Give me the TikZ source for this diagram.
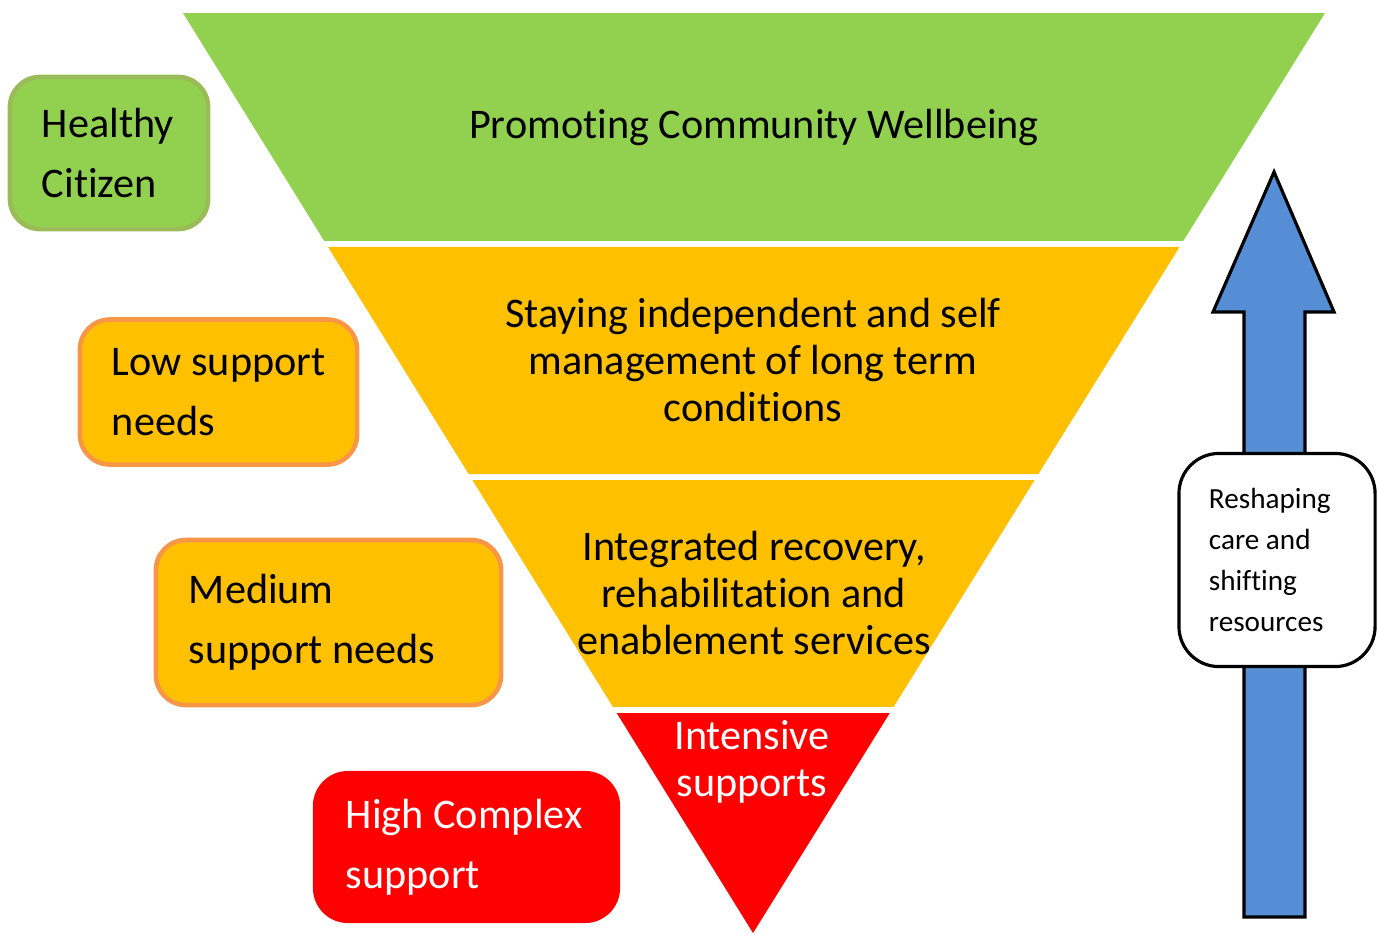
\documentclass[tikz,border=0pt]{standalone}
\usepackage{fontspec}
\setmainfont{Carlito}[RawFeature={-liga;-calt;-dlig}]
\usepackage{tikz}
\usepackage{xcolor}
\usetikzlibrary{calc}

\definecolor{wellgreen}{HTML}{92D050}
\definecolor{wellgreenedge}{HTML}{9BBB59}
\definecolor{amber}{HTML}{FFC000}
\definecolor{amberedge}{HTML}{F79646}
\definecolor{needred}{HTML}{FF0000}
\definecolor{shiftblue}{HTML}{558ED5}

% one unbroken line with the font's own word space
\newcommand{\needline}[1]{\mbox{\spaceskip=0pt\xspaceskip=0pt #1}}

\tikzset{
  needbox/.style={rounded corners=0.3cm, line width=1.3pt, inner xsep=0.32cm,
    align=left, font=\fontsize{12}{17}\selectfont},
  bandtext/.style={align=center, font=\fontsize{12}{13.3}\selectfont},
}

\begin{document}
\begin{tikzpicture}[x=0.01cm, y=-0.01cm]
    \useasboundingbox (0,0) rectangle (1377,933);

    % inverted triangle, cut into four bands
    \coordinate (tl) at (183,13);
    \coordinate (tr) at (1325,13);
    \coordinate (apex) at (753,933);
    \foreach \ftop/\fbot/\col in {0/0.2478/wellgreen, 0.2543/0.5011/amber,
                                  0.5076/0.7543/amber, 0.7609/1/needred}
        \fill[\col] ($(tl)!\ftop!(apex)$) -- ($(tr)!\ftop!(apex)$)
            -- ($(tr)!\fbot!(apex)$) -- ($(tl)!\fbot!(apex)$) -- cycle;

    \node[bandtext] (promote) at (754,127) {Promoting Community Wellbeing};
    \node[bandtext] (selfmgmt) at (753,360) {Staying independent and self\\management of long term\\conditions};
    \node[bandtext] (recovery) at (754,593) {Integrated recovery,\\rehabilitation and\\enablement services};
    \node[bandtext, text=white] (intensive) at (752,762) {Intensive\\supports};

    % levels of need
    \node[needbox, draw=wellgreenedge, fill=wellgreen, minimum width=1.98cm, minimum height=1.52cm,
        text width=1.34cm] (healthy) at (109,153) {\needline{Healthy}\\\needline{Citizen}};
    \node[needbox, draw=amberedge, fill=amber, minimum width=2.77cm, minimum height=1.45cm,
        text width=2.13cm] (low) at (218.5,392) {\needline{Low support}\\\needline{needs}};
    \node[needbox, draw=amberedge, fill=amber, minimum width=3.45cm, minimum height=1.65cm,
        text width=2.79cm] (medium) at (328.5,622.5) {\needline{Medium}\\\needline{support needs}};
    \node[needbox, fill=needred, text=white, minimum width=3.07cm, minimum height=1.52cm,
        text width=2.41cm, rounded corners=0.35cm] (high) at (466.5,847) {\needline{High Complex}\\\needline{support}};

    % upward arrow
    \filldraw[fill=shiftblue, draw=black, line width=0.9pt, line join=miter]
        (1244,917) -- (1305,917) -- (1305,312) -- (1334,312) -- (1274,172)
        -- (1213,312) -- (1244,312) -- cycle;
    \node[draw, fill=white, line width=0.9pt, rounded corners=0.4cm, inner xsep=0.3cm,
        minimum width=1.96cm, minimum height=2.13cm, text width=1.36cm, align=left,
        font=\fontsize{8.3}{11.7}\selectfont] (reshape) at (1277,560)
        {\needline{Reshaping}\\\needline{care and}\\\needline{shifting}\\\needline{resources}};
\end{tikzpicture}
\end{document}
